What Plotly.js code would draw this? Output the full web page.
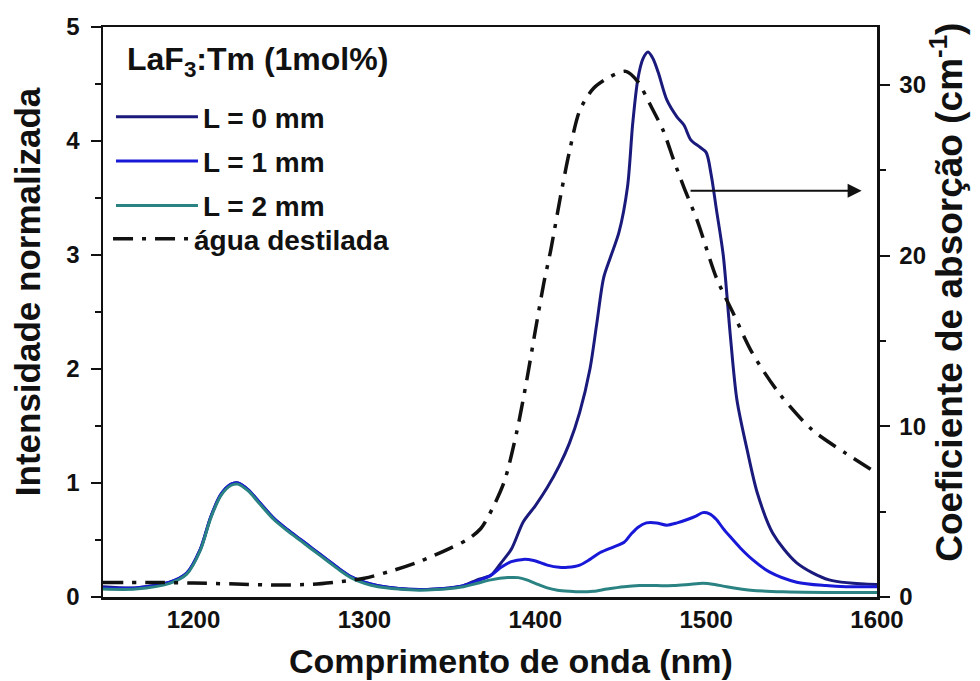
<!DOCTYPE html>
<html>
<head>
<meta charset="utf-8">
<script src="https://cdn.plot.ly/plotly-3.0.1.min.js"></script>
<style>html,body{margin:0;padding:0;background:#fff;}#chart{width:980px;height:681px;}</style>
</head>
<body>
<div id="chart"></div>
<script>
// Emission spectra (normalized intensity), LaF3:Tm (1 mol%)
const wlL0 = [1147,1166,1186,1196,1204,1210,1216,1222,1226,1232,1238,1247,1255,1263,1270,1278,1285,1292,1300,1308,1320,1332,1342,1350,1358,1366,1374,1380,1386,1393,1400,1407,1414,1420,1426,1432,1436,1440,1444,1449,1454,1457,1460,1463,1466,1469,1472,1477,1483,1487,1491,1496,1500,1503,1506,1510,1514,1518,1524,1530,1539,1553,1572,1600];
const intL0 = [0.09,0.08,0.13,0.21,0.42,0.70,0.90,0.99,1.00,0.94,0.84,0.69,0.59,0.50,0.42,0.33,0.25,0.18,0.13,0.10,0.075,0.065,0.07,0.08,0.10,0.15,0.19,0.30,0.42,0.66,0.80,0.96,1.15,1.35,1.62,2.00,2.40,2.80,2.98,3.20,3.60,4.15,4.54,4.72,4.78,4.72,4.60,4.36,4.21,4.14,4.01,3.95,3.90,3.70,3.40,3.00,2.32,1.73,1.29,0.91,0.56,0.30,0.15,0.11];

const wlL1 = [1147,1166,1186,1196,1204,1210,1216,1222,1226,1232,1238,1247,1255,1263,1270,1278,1285,1292,1300,1308,1320,1332,1342,1350,1358,1366,1374,1380,1386,1393,1399,1407,1414,1419,1426,1432,1438,1446,1452,1456,1460,1465,1471,1477,1483,1489,1494,1498,1502,1506,1510,1514,1520,1527,1537,1553,1570,1582,1600];
const intL1 = [0.08,0.08,0.13,0.21,0.42,0.70,0.90,0.99,1.00,0.94,0.84,0.69,0.59,0.50,0.42,0.33,0.25,0.18,0.13,0.10,0.075,0.065,0.07,0.08,0.10,0.14,0.19,0.26,0.31,0.33,0.32,0.28,0.26,0.26,0.28,0.33,0.39,0.44,0.48,0.55,0.61,0.65,0.65,0.63,0.65,0.68,0.71,0.74,0.73,0.68,0.60,0.53,0.43,0.33,0.22,0.13,0.10,0.09,0.09];

const wlL2 = [1147,1166,1186,1196,1204,1210,1216,1222,1226,1232,1238,1247,1255,1263,1270,1278,1285,1292,1300,1308,1320,1332,1342,1350,1358,1366,1374,1384,1390,1395,1400,1407,1413,1420,1426,1434,1442,1452,1461,1471,1481,1490,1498,1505,1512,1526,1545,1570,1600];
const intL2 = [0.07,0.07,0.12,0.20,0.41,0.69,0.89,0.98,0.99,0.93,0.83,0.68,0.58,0.49,0.41,0.32,0.24,0.17,0.12,0.09,0.07,0.06,0.065,0.075,0.09,0.12,0.15,0.17,0.17,0.15,0.12,0.08,0.06,0.05,0.045,0.05,0.07,0.09,0.10,0.10,0.10,0.11,0.12,0.11,0.09,0.06,0.045,0.04,0.04];

// Distilled water absorption coefficient (cm^-1), right axis
const wlWater = [1147,1175,1200,1225,1250,1270,1290,1300,1315,1330,1340,1350,1360,1368,1375,1382,1389,1395,1400,1405,1409,1415,1420,1426,1434,1444,1453,1460,1467,1475,1481,1487,1495,1506,1516,1527,1543,1562,1582,1600];
const absWater = [0.85,0.85,0.82,0.76,0.70,0.75,0.95,1.10,1.50,2.00,2.40,2.85,3.35,4.00,5.20,6.80,9.60,12.7,15.6,18.4,20.3,23.6,26.1,28.5,29.8,30.5,30.8,30.2,28.9,27.3,25.6,24.0,22.0,18.7,16.6,14.3,11.9,9.8,8.4,7.25];

const xTicks = [1200,1300,1400,1500,1600];
const yTicks = [0,1,2,3,4,5];
const y2Ticks = [0,10,20,30];

const FONT = 'Liberation Sans, Arial, Helvetica, sans-serif';
const LEGFONT = {family: FONT, size: 28, color: '#111111', weight: 'bold'};

const traces = [
  {x: wlL0, y: intL0, name: 'L = 0 mm', mode: 'lines', line: {color: '#1a1a7c', width: 3, shape: 'spline', smoothing: 0.8}, legendgroup: 'a'},
  {x: wlL1, y: intL1, name: 'L = 1 mm', mode: 'lines', line: {color: '#1818d8', width: 3, shape: 'spline', smoothing: 0.8}, legendgroup: 'b'},
  {x: wlL2, y: intL2, name: 'L = 2 mm', mode: 'lines', line: {color: '#2a8282', width: 3, shape: 'spline', smoothing: 0.8}, legendgroup: 'c'},
  {x: wlWater, y: absWater, name: 'água destilada', mode: 'lines', yaxis: 'y2', legend: 'legend2', line: {color: '#111111', width: 3.5, dash: '20px,9px,4px,9px', shape: 'spline', smoothing: 0.8}}
];

const layout = {
  width: 980, height: 681,
  margin: {l: 103, r: 103, t: 27, b: 84},
  paper_bgcolor: '#ffffff', plot_bgcolor: '#ffffff',
  font: {family: FONT, color: '#111111', weight: 'bold'},
  showlegend: true,
  legend: {
    x: 0.0103, y: 0.886, xanchor: 'left', yanchor: 'top',
    bgcolor: 'rgba(0,0,0,0)', borderwidth: 0,
    font: LEGFONT, itemwidth: 82, tracegroupgap: 5
  },
  legend2: {
    x: 0.0065, y: 0.672, xanchor: 'left', yanchor: 'top',
    bgcolor: 'rgba(0,0,0,0)', borderwidth: 0,
    font: LEGFONT, itemwidth: 76
  },
  xaxis: {
    range: [1147, 1600], tickvals: xTicks, ticks: '', showgrid: false, zeroline: false,
    showline: true, linecolor: '#111111', linewidth: 2.5, mirror: true,
    tickfont: {family: FONT, size: 24, color: '#111111', weight: 'bold'}
  },
  yaxis: {
    range: [0, 5], tickvals: yTicks, ticks: 'outside', ticklen: 10, tickwidth: 2, tickcolor: '#111111',
    minor: {dtick: 0.5, ticks: 'outside', ticklen: 6, tickwidth: 2, tickcolor: '#111111'},
    showgrid: false, zeroline: false, showline: true, linecolor: '#111111', linewidth: 2.5,
    ticklabelstandoff: 6,
    tickfont: {family: FONT, size: 24, color: '#111111', weight: 'bold'}
  },
  yaxis2: {
    overlaying: 'y', side: 'right', range: [0, 33.4], tickvals: y2Ticks,
    ticks: 'outside', ticklen: 10, tickwidth: 2, tickcolor: '#111111',
    minor: {dtick: 5, ticks: 'outside', ticklen: 6, tickwidth: 2, tickcolor: '#111111'},
    showgrid: false, zeroline: false, showline: true, linecolor: '#111111', linewidth: 2.5,
    ticklabelstandoff: 5,
    tickfont: {family: FONT, size: 24, color: '#111111', weight: 'bold'}
  },
  annotations: [
    {xref: 'paper', yref: 'paper', x: 0.028, y: 0.9386, xanchor: 'left', yanchor: 'middle', showarrow: false,
     text: 'LaF<sub>3</sub>:Tm (1mol%)', font: {family: FONT, size: 32, color: '#111111', weight: 'bold'}},
    {xref: 'paper', yref: 'paper', x: 0.527, y: -0.112, xanchor: 'center', yanchor: 'middle', showarrow: false,
     text: 'Comprimento de onda (nm)', font: {family: FONT, size: 34, color: '#111111', weight: 'bold'}},
    {xref: 'paper', yref: 'paper', x: -0.098, y: 0.535, xanchor: 'center', yanchor: 'middle', showarrow: false, textangle: -90,
     text: 'Intensidade normalizada', font: {family: FONT, size: 35, color: '#111111', weight: 'bold'}},
    {xref: 'paper', yref: 'paper', x: 1.09, y: 0.535, xanchor: 'center', yanchor: 'middle', showarrow: false, textangle: -90,
     text: 'Coeficiente de absorção (cm<sup>-1</sup>)', font: {family: FONT, size: 37, color: '#111111', weight: 'bold'}},
    {xref: 'x', yref: 'y2', x: 1591, y: 23.8, axref: 'x', ayref: 'y2', ax: 1490, ay: 23.8, text: '',
     showarrow: true, arrowhead: 2, arrowsize: 1.4, arrowwidth: 2, arrowcolor: '#111111'}
  ]
};

Plotly.newPlot('chart', traces, layout, {displayModeBar: false, staticPlot: true});
</script>
</body>
</html>
